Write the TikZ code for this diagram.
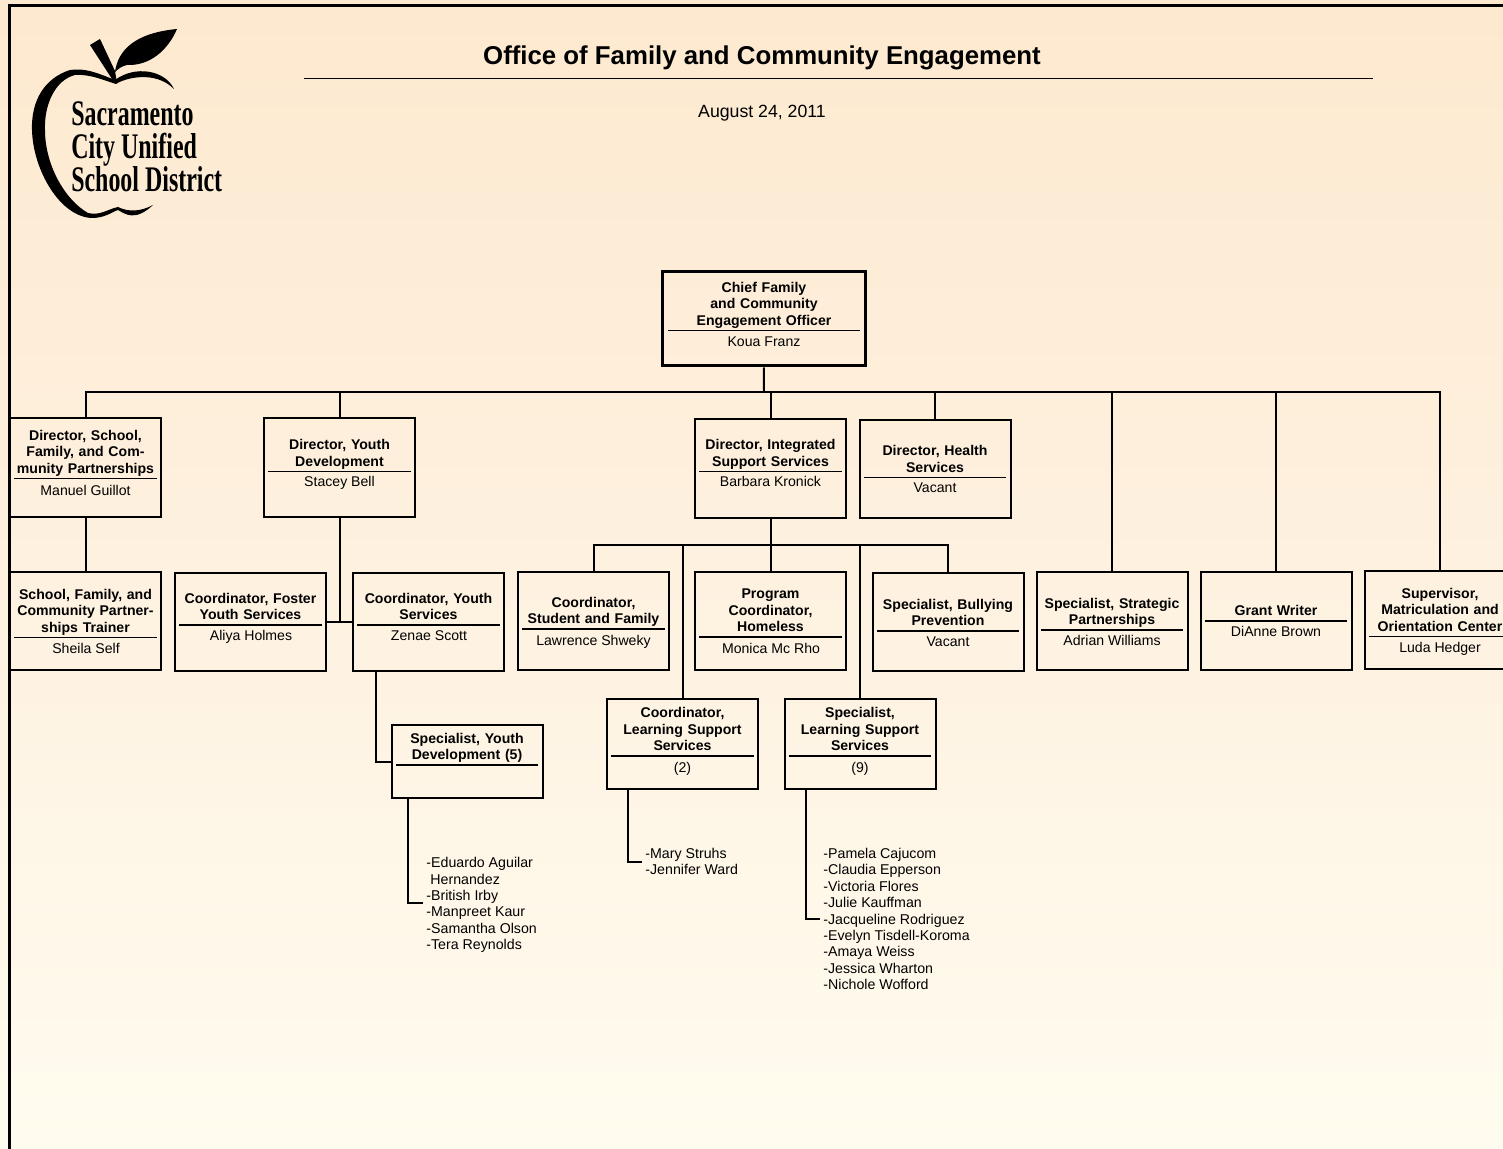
\documentclass[tikz,border=0pt]{standalone}
\usepackage{fontspec}
\setmainfont{Liberation Sans}
\newfontfamily\logofont{Liberation Serif}
\definecolor{bgtop}{HTML}{FDE9CF}
\definecolor{bgmiddle}{HTML}{FEF1E0}
\definecolor{bgbottom}{HTML}{FFFCEF}
\tikzset{
  orgbox/.style={draw, line width=1pt, minimum width=75.5pt, minimum height=49pt, inner sep=0pt},
  titletext/.style={text width=71pt, anchor=south, align=center, inner sep=0pt, execute at end node=\strut, font=\fontsize{7.05}{8.2}\selectfont\bfseries},
  nametext/.style={text height=5pt, text depth=0pt, inner sep=0pt, font=\fontsize{7.05}{8.2}\selectfont},
  listtext/.style={anchor=west, align=left, inner sep=1.5pt, font=\fontsize{7.1}{8.2}\selectfont},
  ruleline/.style={line width=.9pt},
  link/.style={line width=1pt},
  logotext/.style={anchor=west, align=left, xscale=.665, inner sep=0pt, font=\fontsize{18}{16.5}\logofont\bfseries}
}
\begin{document}
\begin{tikzpicture}[x=.5pt, y=-.5pt]
  \useasboundingbox (0, 0) rectangle (1503, 1149) ;
  \clip (0, 0) rectangle (1503, 1149) ;
  \shade[top color=bgtop, bottom color=bgbottom, middle color=bgmiddle] (0, 0) rectangle (1503, 1149) ;
  % frame
  \draw[line width=1.2pt] (9.5, 1149) -- (9.5, 5.5) -- (1503, 5.5) ;
  % logo
  \fill (90, 45) -- (100, 39) -- (115, 71) -- (117, 83) -- (112, 79) -- cycle ;
  \fill (115, 72) .. controls (118, 50) and (135, 33) .. (177, 29) .. controls (168, 50) and (150, 66) .. (127, 65) .. controls (122, 66) and (118, 69) .. (115, 72) -- cycle ;
  \fill (115, 80) .. controls (95, 72) and (85, 68) .. (70, 70) .. controls (45, 78) and (31, 100) .. (32, 130) .. controls (33, 170) and (60, 217) .. (92, 218) .. controls (105, 218) and (112, 212) .. (118, 210) .. controls (125, 214) and (135, 222) .. (153, 205) .. controls (140, 212) and (128, 212) .. (118, 207) .. controls (108, 209) and (100, 216) .. (88, 213) .. controls (65, 200) and (45, 165) .. (45, 130) .. controls (44, 105) and (55, 80) .. (75, 75) .. controls (90, 74) and (103, 80) .. (116, 84) .. controls (125, 78) and (155, 70) .. (174, 89) .. controls (165, 70) and (135, 65) .. (115, 80) -- cycle ;
  \node[logotext] (logo) at (71, 147) {Sacramento\\City Unified\\School District} ;
  % heading
  \node[inner sep=0pt, font=\fontsize{12.9}{15}\selectfont\bfseries] (heading) at (762, 57.5) {Office of Family and Community Engagement} ;
  \draw[ruleline] (304, 78.5) -- (1373, 78.5) ;
  \node[inner sep=0pt, font=\fontsize{8.85}{10}\selectfont] (date) at (762, 113) {August 24, 2011} ;
  % chief
  \node[orgbox, line width=1.5pt, minimum width=101.5pt, minimum height=47pt] (chief) at (763.5, 319) {} ;
  \node[titletext, text width=96pt] (chieft) at (764, 330.5) {Chief Family\\and Community\\Engagement Officer} ;
  \draw[ruleline] (chieft.south west) -- (chieft.south east) ;
  \node[nametext] (chiefn) at (764, 342) {Koua Franz} ;
  % directors
  \node[orgbox] (dschool) at (85.5, 467.5) {} ;
  \node[titletext] (dschoolt) at (85.5, 478.5) {Director, School,\\Family, and Com-\\munity Partnerships} ;
  \draw[ruleline] (dschoolt.south west) -- (dschoolt.south east) ;
  \node[nametext] (dschooln) at (85.5, 490) {Manuel Guillot} ;
  \node[orgbox] (dyouth) at (339.5, 467.5) {} ;
  \node[titletext] (dyoutht) at (339.5, 471.5) {Director, Youth\\Development} ;
  \draw[ruleline] (dyoutht.south west) -- (dyoutht.south east) ;
  \node[nametext] (dyouthn) at (339.5, 482) {Stacey Bell} ;
  \node[orgbox] (dsupport) at (770.5, 468.5) {} ;
  \node[titletext] (dsupportt) at (770.5, 471.5) {Director, Integrated\\Support Services} ;
  \draw[ruleline] (dsupportt.south west) -- (dsupportt.south east) ;
  \node[nametext] (dsupportn) at (770.5, 482) {Barbara Kronick} ;
  \node[orgbox] (dhealth) at (935, 469) {} ;
  \node[titletext] (dhealtht) at (935, 477.5) {Director, Health\\Services} ;
  \draw[ruleline] (dhealtht.south west) -- (dhealtht.south east) ;
  \node[nametext] (dhealthn) at (935, 488) {Vacant} ;
  % second row
  \node[orgbox] (trainer) at (85.5, 620.5) {} ;
  \node[titletext] (trainert) at (85.5, 637.5) {School, Family, and\\Community Partner-\\ships Trainer} ;
  \draw[ruleline] (trainert.south west) -- (trainert.south east) ;
  \node[nametext] (trainern) at (86, 648) {Sheila Self} ;
  \node[orgbox] (foster) at (250.5, 621.5) {} ;
  \node[titletext] (fostert) at (250.5, 625) {Coordinator, Foster\\Youth Services} ;
  \draw[ruleline] (fostert.south west) -- (fostert.south east) ;
  \node[nametext] (fostern) at (251, 635) {Aliya Holmes} ;
  \node[orgbox] (cyouth) at (428.5, 621.5) {} ;
  \node[titletext] (cyoutht) at (428.5, 625) {Coordinator, Youth\\Services} ;
  \draw[ruleline] (cyoutht.south west) -- (cyoutht.south east) ;
  \node[nametext] (cyouthn) at (429, 635) {Zenae Scott} ;
  \node[orgbox] (student) at (593.5, 620.5) {} ;
  \node[titletext] (studentt) at (593.5, 629) {Coordinator,\\Student and Family} ;
  \draw[ruleline] (studentt.south west) -- (studentt.south east) ;
  \node[nametext] (studentn) at (593.5, 640) {Lawrence Shweky} ;
  \node[orgbox] (homeless) at (770.5, 620.5) {} ;
  \node[titletext] (homelesst) at (770.5, 637) {Program\\Coordinator,\\Homeless} ;
  \draw[ruleline] (homelesst.south west) -- (homelesst.south east) ;
  \node[nametext] (homelessn) at (771, 648) {Monica Mc Rho} ;
  \node[orgbox] (bullying) at (948, 621.5) {} ;
  \node[titletext] (bullyingt) at (948, 631) {Specialist, Bullying\\Prevention} ;
  \draw[ruleline] (bullyingt.south west) -- (bullyingt.south east) ;
  \node[nametext] (bullyingn) at (948, 641) {Vacant} ;
  \node[orgbox] (strategic) at (1112, 621) {} ;
  \node[titletext] (strategict) at (1112, 630) {Specialist, Strategic\\Partnerships} ;
  \draw[ruleline] (strategict.south west) -- (strategict.south east) ;
  \node[nametext] (strategicn) at (1112, 640) {Adrian Williams} ;
  \node[orgbox] (grant) at (1276, 620.5) {} ;
  \node[titletext] (grantt) at (1276, 621) {Grant Writer} ;
  \draw[ruleline] (grantt.south west) -- (grantt.south east) ;
  \node[nametext] (grantn) at (1276, 631) {DiAnne Brown} ;
  \node[orgbox] (matric) at (1440, 619.5) {} ;
  \node[titletext] (matrict) at (1440, 636.5) {Supervisor,\\Matriculation and\\Orientation Center} ;
  \draw[ruleline] (matrict.south west) -- (matrict.south east) ;
  \node[nametext] (matricn) at (1440, 647) {Luda Hedger} ;
  % third row
  \node[orgbox, minimum height=36.5pt] (syouth) at (467, 761.5) {} ;
  \node[titletext] (syoutht) at (467, 765) {Specialist, Youth\\Development (5)} ;
  \draw[ruleline] (syoutht.south west) -- (syoutht.south east) ;
  \node[orgbox, minimum height=45pt] (clearn) at (682.5, 744) {} ;
  \node[titletext] (clearnt) at (682.5, 756) {Coordinator,\\Learning Support\\Services} ;
  \draw[ruleline] (clearnt.south west) -- (clearnt.south east) ;
  \node[nametext] (clearnn) at (682.5, 767) {(2)} ;
  \node[orgbox, minimum height=45pt] (slearn) at (860, 744) {} ;
  \node[titletext] (slearnt) at (860, 756) {Specialist,\\Learning Support\\Services} ;
  \draw[ruleline] (slearnt.south west) -- (slearnt.south east) ;
  \node[nametext] (slearnn) at (860, 767) {(9)} ;
  % staff lists
  \node[listtext] (syouthl) at (423, 905) {-Eduardo Aguilar\\\hspace{2pt}Hernandez\\-British Irby\\-Manpreet Kaur\\-Samantha Olson\\-Tera Reynolds} ;
  \node[listtext] (clearnl) at (642, 861.5) {-Mary Struhs\\-Jennifer Ward} ;
  \node[listtext] (slearnl) at (820, 919) {-Pamela Cajucom\\-Claudia Epperson\\-Victoria Flores\\-Julie Kauffman\\-Jacqueline Rodriguez\\-Evelyn Tisdell-Koroma\\-Amaya Weiss\\-Jessica Wharton\\-Nichole Wofford} ;
  % links
  \coordinate (topbus) at (764, 392.5) ;
  \coordinate (midbus) at (770.5, 545) ;
  \draw[link] (chief) -- (topbus) ;
  \draw[link] (dschool.north) |- (topbus) ;
  \draw[link] (dyouth.north) |- (topbus) ;
  \draw[link] (dsupport.north) |- (topbus) ;
  \draw[link] (dhealth.north) |- (topbus) ;
  \draw[link] (strategic.north) |- (topbus) ;
  \draw[link] (grant.north) |- (topbus) ;
  \draw[link] (matric.north) |- (topbus) ;
  \draw[link] (dschool) -- (trainer) ;
  \draw[link] (dyouth.south) |- (cyouth.west) ;
  \draw[link] (foster.east) -- (cyouth.west) ;
  \draw[link] (dsupport) -- (homeless) ;
  \draw[link] (student.north) |- (midbus) ;
  \draw[link] (clearn.north) |- (midbus) ;
  \draw[link] (slearn.north) |- (midbus) ;
  \draw[link] (bullying.north) |- (midbus) ;
  \draw[link] ([xshift=12pt]cyouth.south west) |- (syouth.west) ;
  \draw[link] ([xshift=8.5pt]syouth.south west) |- ([yshift=1pt]syouthl.west) ;
  \draw[link] ([xshift=11pt]clearn.south west) |- (clearnl.west) ;
  \draw[link] ([xshift=11pt]slearn.south west) |- (slearnl.west) ;
\end{tikzpicture}
\end{document}
